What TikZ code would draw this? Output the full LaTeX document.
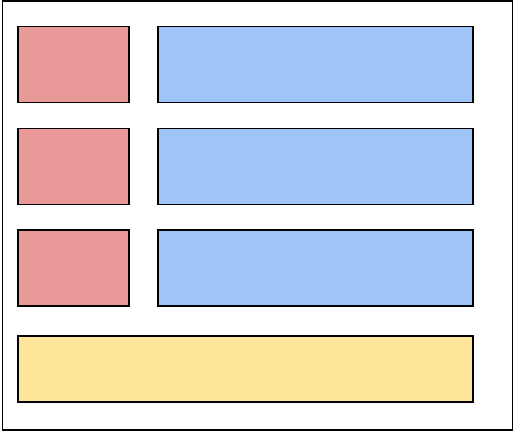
\documentclass[tikz,border=0pt]{standalone}
\begin{document}
\begin{tikzpicture}[x=1pt,y=-1pt,
  box/.style={draw=black,line width=1.5pt,inner sep=0pt,outer sep=0pt},
  redbox/.style={box,fill=redc,minimum width=111pt,minimum height=76pt},
  bluebox/.style={box,fill=bluec,minimum width=315pt,minimum height=76pt},
  yellowbox/.style={box,fill=yellowc,minimum width=455pt,minimum height=66pt}]
\definecolor{redc}{HTML}{EA9999}
\definecolor{bluec}{HTML}{9FC5F8}
\definecolor{yellowc}{HTML}{FFE599}
\useasboundingbox (0,0) rectangle (515,433);
\node[box,fill=white,minimum width=510pt,minimum height=429pt] (outer) at (257.5,215.5) {};
\node[redbox] (r1) at (73.5,64.5) {};
\node[redbox] (r2) at (73.5,166.5) {};
\node[redbox] (r3) at (73.5,268) {};
\node[bluebox] (b1) at (315.5,64.5) {};
\node[bluebox] (b2) at (315.5,166.5) {};
\node[bluebox] (b3) at (315.5,268) {};
\node[yellowbox] (y1) at (245.5,369) {};
\end{tikzpicture}
\end{document}
